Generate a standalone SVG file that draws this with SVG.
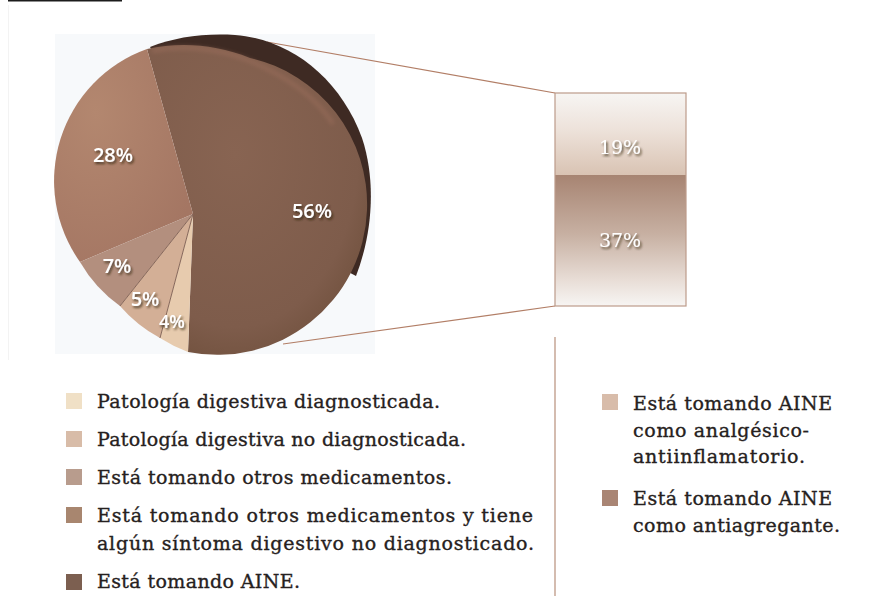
<svg xmlns="http://www.w3.org/2000/svg" width="880" height="609" viewBox="0 0 880 609">
<style>
.lg{font-family:"DejaVu Serif","Liberation Serif",serif;font-size:19px;fill:#262120;stroke:#262120;stroke-width:0.35;}
.pl{font-family:"Open Sans","Liberation Sans",sans-serif;font-size:20px;font-weight:600;fill:#ffffff;text-anchor:middle;filter:url(#sh);}
.bl{font-family:"DejaVu Serif","Liberation Serif",serif;font-size:19px;fill:#ffffff;text-anchor:middle;filter:url(#sh);}
.con{stroke:#B27E66;stroke-width:1.2;fill:none;}
.sep{stroke:#86675A;stroke-width:1;fill:none;}
</style>
<defs>
<filter id="sh" x="-20%" y="-30%" width="150%" height="170%">
<feDropShadow dx="1.5" dy="2" stdDeviation="1" flood-color="#2e2018" flood-opacity="0.75"/>
</filter>
<filter id="blur" x="-10%" y="-10%" width="120%" height="120%">
<feGaussianBlur stdDeviation="2"/>
</filter>
<radialGradient id="g28" cx="0.3" cy="0.3" r="0.8">
<stop offset="0" stop-color="#B3876F"/>
<stop offset="1" stop-color="#A47663"/>
</radialGradient>
<radialGradient id="g56" cx="0.4" cy="0.35" r="0.7">
<stop offset="0" stop-color="#886452"/>
<stop offset="0.8" stop-color="#7E5C4B"/>
<stop offset="1" stop-color="#72523F"/>
</radialGradient>
<linearGradient id="gTop" x1="0" y1="0" x2="0" y2="1">
<stop offset="0" stop-color="#F7F5F3"/>
<stop offset="0.45" stop-color="#EDE2DA"/>
<stop offset="1" stop-color="#D9C3B3"/>
</linearGradient>
<linearGradient id="gBot" x1="0" y1="0" x2="0" y2="1">
<stop offset="0" stop-color="#A78472"/>
<stop offset="0.45" stop-color="#C7B0A2"/>
<stop offset="0.8" stop-color="#E8DDD6"/>
<stop offset="1" stop-color="#F7F5F3"/>
</linearGradient>
</defs>

<rect x="8" y="0" width="114" height="1.5" fill="#1c1c1c"/>
<line x1="8.5" y1="5" x2="8.5" y2="360" stroke="#F3F3F3" stroke-width="1"/>
<rect x="55" y="34" width="320" height="320" fill="#F7F9FB"/>

<g id="connectors">
<line class="con" x1="267" y1="42" x2="555" y2="93"/>
<line class="con" x1="283" y1="344" x2="555" y2="306"/>
</g>

<g id="pie">
<path id="slice-aine-side" d="M150,47 C175,37 205,33 235,35 C290,39 340,78 362,138 C376,180 373,232 356,276 L250,220 Z" fill="#3E2A23"/>
<path id="slice-56" d="M193,214 L147,49 C180,42 215,44 250,58 A150,150 0 0 1 367,210 A150,150 0 0 1 188,352 Z" fill="url(#g56)"/>
<path d="M152,51 C180,45 215,47 250,61 C290,78 318,100 333,124" fill="none" stroke="#A57462" stroke-width="4" opacity="0.45" filter="url(#blur)"/>
<path id="slice-28" d="M193,214 L147,49 A140,140 0 0 0 80,262 Z" fill="url(#g28)"/>
<path id="slice-7" d="M193,214 L80,262 A140,140 0 0 0 120,306 Z" fill="#B38F7E"/>
<path id="slice-5" d="M193,214 L120,306 A140,140 0 0 0 160,338 Z" fill="#D3AF96"/>
<path id="slice-4" d="M193,214 L160,338 A150,150 0 0 0 188,352 Z" fill="#E7CBAE"/>
<path class="sep" d="M193,214 L120,306 M193,214 L160,338"/>
<text class="pl" x="113" y="162">28%</text>
<text class="pl" x="312" y="218">56%</text>
<text class="pl" x="117" y="273">7%</text>
<text class="pl" x="145" y="306">5%</text>
<text class="pl" x="172" y="328" style="font-size:18px">4%</text>
</g>

<g id="breakdown-box">
<rect x="555" y="93" width="131" height="82" fill="url(#gTop)"/>
<rect x="555" y="175" width="131" height="131" fill="url(#gBot)"/>
<rect x="555" y="93" width="131" height="213" fill="none" stroke="#BC9B8A" stroke-width="1.2"/>
<text class="bl" x="620" y="154">19%</text>
<text class="bl" x="620" y="247">37%</text>
</g>

<line id="divider" x1="555" y1="337" x2="555" y2="596" stroke="#B88F7B" stroke-width="1.2"/>

<g id="legend-left">
<g id="leg-diag"><rect x="66" y="393" width="16" height="16" fill="#F0E0C6"/><text class="lg" x="97" y="408" textLength="343" lengthAdjust="spacing">Patología digestiva diagnosticada.</text></g>
<g id="leg-nodiag"><rect x="66" y="431" width="16" height="16" fill="#D8BCA8"/><text class="lg" x="97" y="446" textLength="369" lengthAdjust="spacing">Patología digestiva no diagnosticada.</text></g>
<g id="leg-otros"><rect x="66" y="469" width="16" height="16" fill="#B89C8D"/><text class="lg" x="97" y="484" textLength="355" lengthAdjust="spacing">Está tomando otros medicamentos.</text></g>
<g id="leg-otros-sint"><rect x="66" y="507" width="16" height="16" fill="#A8866F"/><text class="lg" x="97" y="522" textLength="436" lengthAdjust="spacing">Está tomando otros medicamentos y tiene</text><text class="lg" x="97" y="550" textLength="437" lengthAdjust="spacing">algún síntoma digestivo no diagnosticado.</text></g>
<g id="leg-aine"><rect x="66" y="574" width="16" height="16" fill="#7C5F50"/><text class="lg" x="97" y="588" textLength="203" lengthAdjust="spacing">Está tomando AINE.</text></g>
</g>

<g id="legend-right">
<g id="leg-analg"><rect x="602" y="394" width="16" height="16" fill="#D8BCAA"/><text class="lg" x="633" y="410" textLength="199" lengthAdjust="spacing">Está tomando AINE</text><text class="lg" x="633" y="437" textLength="176" lengthAdjust="spacing">como analgésico-</text><text class="lg" x="633" y="463" textLength="172" lengthAdjust="spacing">antiinflamatorio.</text></g>
<g id="leg-antiag"><rect x="602" y="490" width="16" height="16" fill="#A98574"/><text class="lg" x="633" y="505" textLength="199" lengthAdjust="spacing">Está tomando AINE</text><text class="lg" x="633" y="532" textLength="207" lengthAdjust="spacing">como antiagregante.</text></g>
</g>
</svg>
